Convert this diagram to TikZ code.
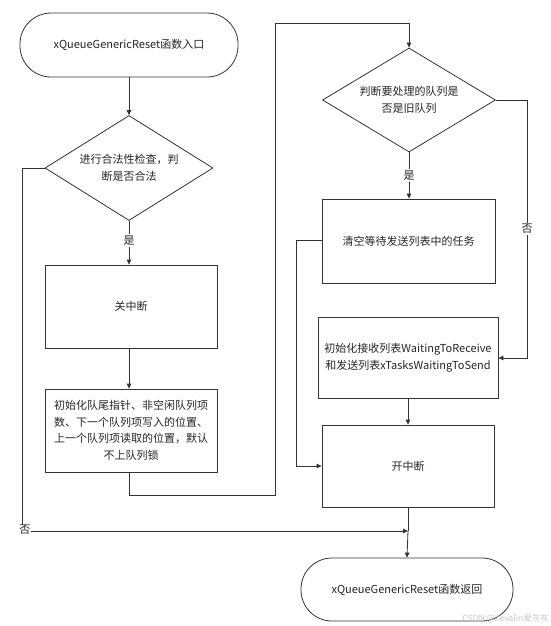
\documentclass[tikz,border=0pt]{standalone}
\usepackage{fontspec}
\setmainfont{Noto Sans CJK SC}
\usetikzlibrary{arrows.meta,shapes.geometric}
\begin{document}
\begin{tikzpicture}[x=1pt,y=-1pt,
  every node/.style={font=\fontsize{11}{16.5}\selectfont, text=black!85},
  line/.style={draw=black!80, line width=0.8pt},
  arr/.style={line, -{Triangle[length=5pt,width=4.5pt]}},
  term/.style={line, rounded corners=31pt, minimum width=218pt, minimum height=64pt, inner sep=0pt},
  boxnode/.style={line, minimum width=172pt, minimum height=83pt, inner sep=0pt, align=center},
  dia/.style={line, diamond, aspect=1.6, inner sep=0pt, align=center},
  lab/.style={fill=white, inner sep=1.5pt}
]
\useasboundingbox (0,0) rectangle (550,626);
\fill[white] (0,0) rectangle (550,626);

\node[term] (start) at (129,45) {xQueueGenericReset函数入口};
\node[dia, minimum width=168pt, minimum height=105pt] (d1) at (129,168) {进行合法性检查，判\\断是否合法};
\node[boxnode] (b1) at (131,306.5) {关中断};
\node[boxnode] (b2) at (131,430.5) {初始化队尾指针、非空闲队列项\\数、下一个队列项写入的位置、\\上一个队列项读取的位置，默认\\不上队列锁};

\node[dia, minimum width=173pt, minimum height=104pt] (d2) at (409,100) {判断要处理的队列是\\否是旧队列};
\node[boxnode, minimum width=173pt, minimum height=84pt] (b3) at (408.5,241) {清空等待发送列表中的任务};
\node[boxnode, minimum width=180pt, minimum height=81pt] (b4) at (408,357.5) {初始化接收列表WaitingToReceive\\和发送列表xTasksWaitingToSend};
\node[boxnode, minimum height=82pt] (b5) at (408,466) {开中断};
\node[term, minimum width=212pt, minimum height=63pt] (end) at (407,589.5) {xQueueGenericReset函数返回};

\coordinate (j) at (408,531);

\draw[arr] (start.south -| d1.north) -- (d1.north);
\draw[arr] (d1.south) -- node[lab, pos=0.45] {是} (d1.south |- b1.north);
\draw[arr] (d1.south |- b1.south) -- (d1.south |- b2.north);
\draw[line] (d1.west) -- (22,168) -- (22,528);
\draw[arr] (22,531) -- (j);
\node[lab, inner sep=0.5pt] (no1) at (25,530) {否};

\draw[arr] (d1.south |- b2.south) -- (129,495) -- (275,495) -- (275,23) -- (409,23) -- (d2.north);
\draw[arr] (d2.south) -- node[lab, pos=0.5] {是} (d2.south |- b3.north);
\draw[arr] (d2.east) -- (527,100) -- node[lab, pos=0.5] {否} (527,358) -- (b4.east |- 0,358);
\draw[arr] (b3.west |- 0,240) -- (296,240) -- (296,466) -- (b5.west);
\draw[arr] (b4.south) -- (b5.north);
\draw[line] (b5.south) -- (j);
\draw[arr] (j) -- (end.north);

\node[text=black!22, font=\fontsize{8.5}{10}\selectfont, anchor=east, inner sep=1pt] (wm) at (550,619) {CSDN @Zevalin爱灰灰};
\end{tikzpicture}
\end{document}
